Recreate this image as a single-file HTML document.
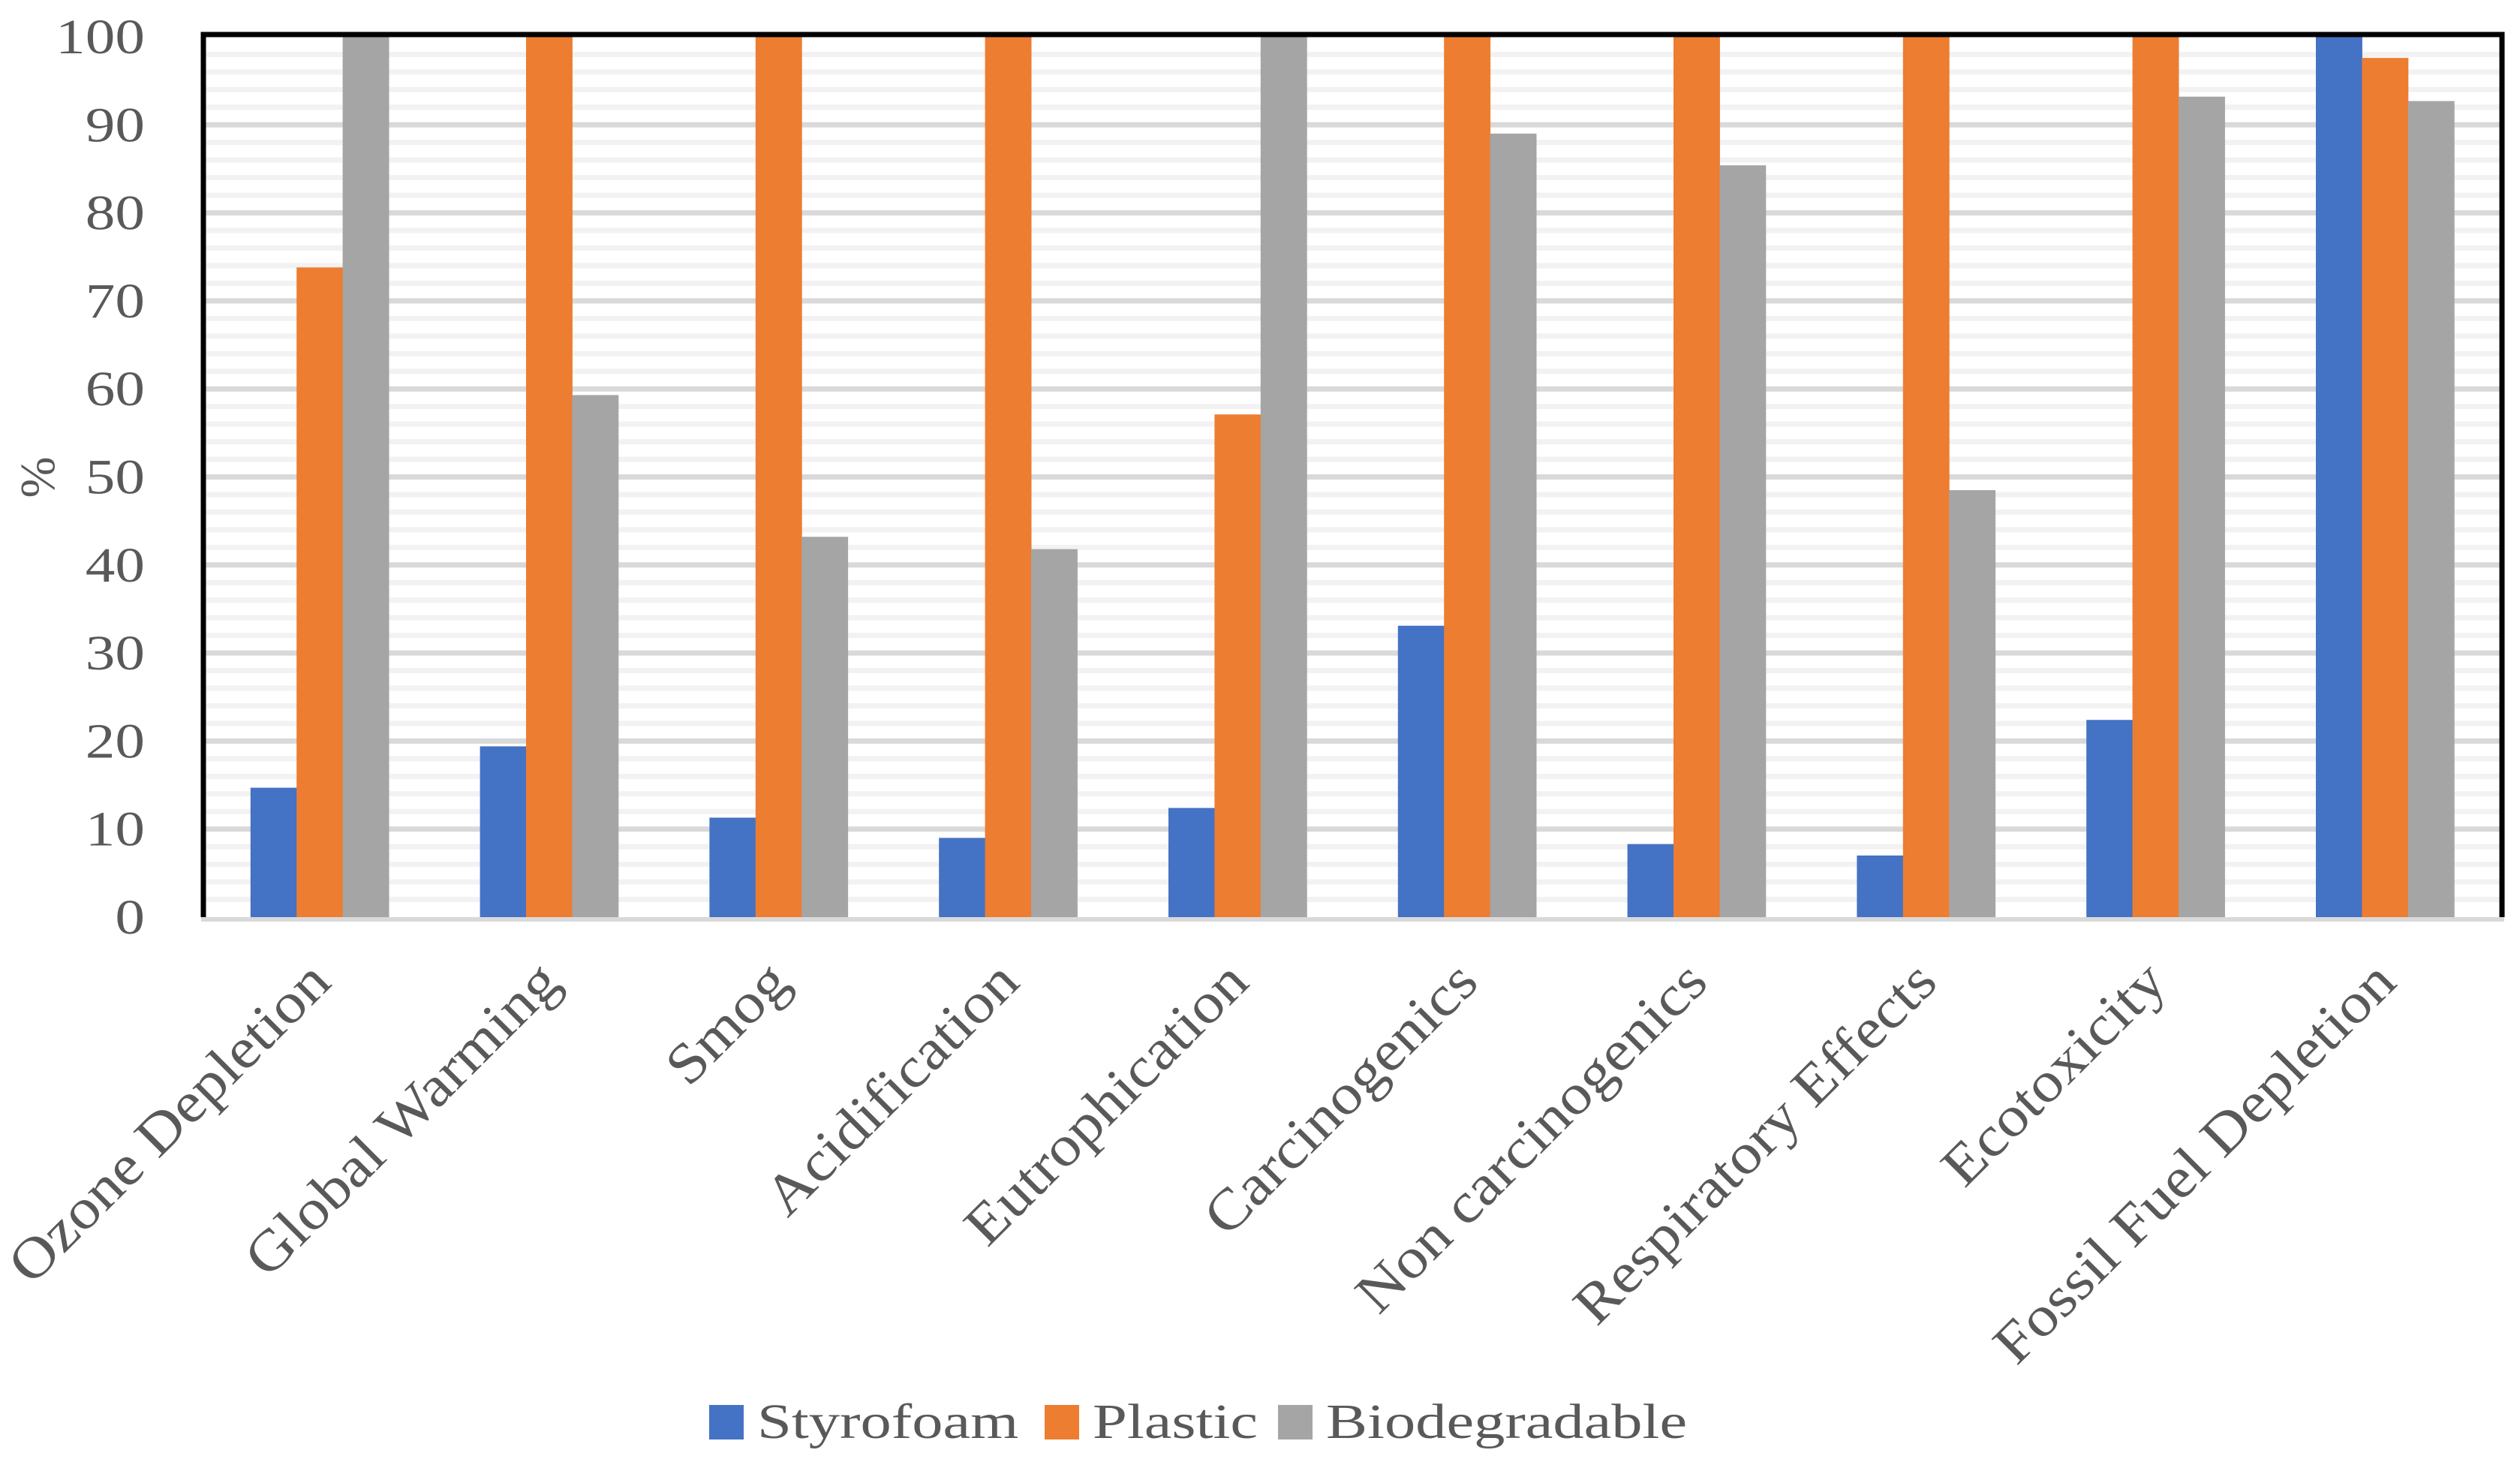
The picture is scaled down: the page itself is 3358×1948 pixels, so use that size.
<!DOCTYPE html>
<html><head><meta charset="utf-8">
<style>
html,body{margin:0;padding:0;background:#fff;}
svg{display:block;font-family:"Liberation Serif",serif;}
</style></head>
<body>
<svg id="chart" width="3358" height="1948" viewBox="0 0 3358 1948" xmlns="http://www.w3.org/2000/svg"></svg>
<script>
const categories = ["Ozone Depletion","Global Warming","Smog","Acidification","Eutrophication","Carcinogenics","Non carcinogenics","Respiratory Effects","Ecotoxicity","Fossil Fuel Depletion"];
const styrofoam = [14.7,19.4,11.3,9.0,12.4,33.1,8.3,7.0,22.4,100];
const plastic = [73.8,100,100,100,57.1,100,100,100,100,97.6];
const biodegradable = [100,59.3,43.2,41.8,100,89.0,85.4,48.5,93.2,92.7];
const seriesNames = ["Styrofoam","Plastic","Biodegradable"];
const yTicks = [0,10,20,30,40,50,60,70,80,90,100];

const colors = ["#4472c4","#ed7d31","#a5a5a5"];
const series = [styrofoam, plastic, biodegradable];
const L=273, R=3331, T=49, B=1222, yMax=100;
const svg=document.getElementById('chart');
const NS="http://www.w3.org/2000/svg";
function mk(t,a){const e=document.createElementNS(NS,t);for(const k in a)e.setAttribute(k,a[k]);return e;}
function widen(t,f){const w=t.getComputedTextLength();t.setAttribute('textLength',w*f);t.setAttribute('lengthAdjust','spacingAndGlyphs');}
const y=v=>B-(v/yMax)*(B-T);
const catW=(R-L)/categories.length;
const barW=catW/4.98;
const xc=i=>L+catW*(i+0.5);

for(let v=2;v<yMax;v+=2){
  const major=v%10===0;
  const g=mk('line',{x1:L,x2:R,y1:y(v),y2:y(v),stroke:major?'#d9d9d9':'#f2f2f2','stroke-width':7});
  
  
  svg.appendChild(g);
}
series.forEach((s,si)=>{
  s.forEach((v,i)=>{
    const x=xc(i)-1.5*barW+si*barW;
    const r=mk('rect',{x:x,y:y(v),width:barW+0.5,height:B-y(v),fill:colors[si]});
    
    
    svg.appendChild(r);
  });
});
const fr=mk('path',{d:`M${L-2} ${B} L${L-2} ${T-3} L${R+3} ${T-3} L${R+3} ${B}`,fill:'none',stroke:'#000','stroke-width':7});


svg.appendChild(fr);
const xa=mk('line',{x1:L-5,x2:R+6,y1:B+3,y2:B+3,stroke:'#d9d9d9','stroke-width':6});


svg.appendChild(xa);
yTicks.forEach(v=>{
  const t=mk('text',{x:193,y:y(v)+22,'text-anchor':'end','font-size':66,fill:'#595959'});
  t.textContent=v;
  
  
  svg.appendChild(t);
  widen(t,1.2);
});
const yt=mk('text',{x:0,y:0,'text-anchor':'middle','font-size':66,fill:'#595959',transform:'translate(72,636) rotate(-90)'});
yt.textContent='%';


svg.appendChild(yt);
categories.forEach((c,i)=>{
  const ax=xc(i)+18, ay=1312;
  const t=mk('text',{x:ax,y:ay,'text-anchor':'end','font-size':76,fill:'#595959',transform:`rotate(-45 ${ax} ${ay})`});
  t.textContent=c;
  
  
  svg.appendChild(t);
  widen(t,1.1);
});
const legX=[945,1392,1703];
seriesNames.forEach((n,i)=>{
  const g=mk('g',{});
  
  
  g.appendChild(mk('rect',{x:legX[i],y:1872,width:46,height:46,fill:colors[i]}));
  const t=mk('text',{x:legX[i]+64,y:1916,'font-size':66,fill:'#595959'});
  t.textContent=n;
  g.appendChild(t);
  svg.appendChild(g);
  widen(t,1.25);
});
</script>
</body></html>
